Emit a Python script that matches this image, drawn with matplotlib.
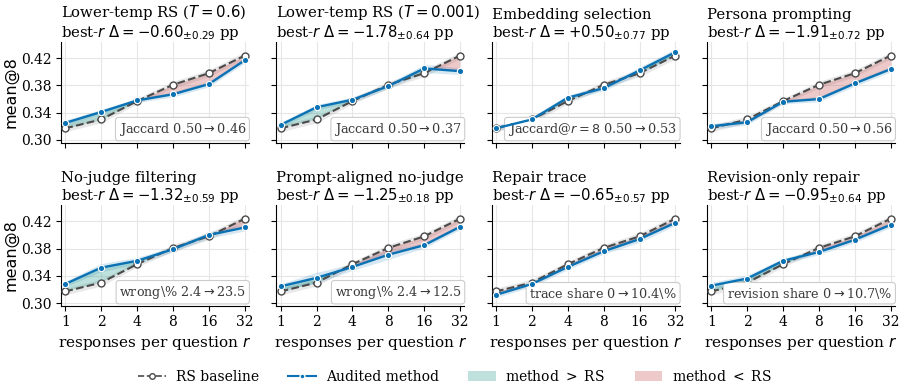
import numpy as np
import matplotlib
matplotlib.use("Agg")
import matplotlib.pyplot as plt
from matplotlib.lines import Line2D
from matplotlib.patches import Patch

plt.rcParams['font.family'] = ['DejaVu Serif']
plt.rcParams['mathtext.fontset'] = 'dejavusans'

#%% Data
r_values = [1, 2, 4, 8, 16, 32]
baseline = [0.317, 0.330, 0.357, 0.381, 0.398, 0.424]
baseline_ci = [0.005, 0.005, 0.004, 0.005, 0.005, 0.005]

titles = [
	"Lower-temp RS ($T=0.6$)",
	"Lower-temp RS ($T=0.001$)",
	"Embedding selection",
	"Persona prompting",
	"No-judge filtering",
	"Prompt-aligned no-judge",
	"Repair trace",
	"Revision-only repair",
]
deltas = ["-0.60", "-1.78", "+0.50", "-1.91", "-1.32", "-1.25", "-0.65", "-0.95"]
delta_errs = ["0.29", "0.64", "0.77", "0.72", "0.59", "0.18", "0.57", "0.64"]
notes = [
	"Jaccard 0.50$\\rightarrow$0.46",
	"Jaccard 0.50$\\rightarrow$0.37",
	"Jaccard@$r=8$ 0.50$\\rightarrow$0.53",
	"Jaccard 0.50$\\rightarrow$0.56",
	"wrong\\% 2.4$\\rightarrow$23.5",
	"wrong\\% 2.4$\\rightarrow$12.5",
	"trace share 0$\\rightarrow$10.4\\%",
	"revision share 0$\\rightarrow$10.7\\%",
]
method_values = [
	[0.325, 0.341, 0.358, 0.367, 0.382, 0.417],
	[0.322, 0.348, 0.359, 0.379, 0.405, 0.401],
	[0.317, 0.330, 0.362, 0.376, 0.402, 0.429],
	[0.320, 0.326, 0.356, 0.360, 0.383, 0.404],
	[0.328, 0.352, 0.362, 0.379, 0.400, 0.411],
	[0.3245, 0.337, 0.353, 0.371, 0.385, 0.412],
	[0.312, 0.328, 0.353, 0.376, 0.394, 0.418],
	[0.3255, 0.336, 0.362, 0.375, 0.393, 0.415],
]
method_ci = [
	[0.004, 0.004, 0.003, 0.004, 0.004, 0.004],
	[0.004, 0.004, 0.004, 0.004, 0.006, 0.005],
	[0.004, 0.004, 0.004, 0.004, 0.005, 0.005],
	[0.004, 0.004, 0.003, 0.004, 0.004, 0.004],
	[0.004, 0.006, 0.005, 0.004, 0.005, 0.005],
	[0.004, 0.008, 0.005, 0.007, 0.004, 0.004],
	[0.004, 0.004, 0.004, 0.004, 0.005, 0.004],
	[0.005, 0.005, 0.004, 0.004, 0.004, 0.004],
]

blue = '#0a72b4'
grey = '#4a4a4a'
green_fill = '#2a9d8f'
red_fill = '#c44e52'

#%% Plot
fig, axes = plt.subplots(2, 4, figsize=(9.05, 3.88), dpi=100, sharey=True)
fig.subplots_adjust(left=0.0674, right=0.989, top=0.892, bottom=0.212, wspace=0.145, hspace=0.62)

x = np.log2(r_values)
b = np.array(baseline)
bci = np.array(baseline_ci)

for i, ax in enumerate(axes.flat):
	m = np.array(method_values[i])
	mci = np.array(method_ci[i])

	ax.grid(True, color='#e6e6e6', linewidth=0.8)
	ax.set_axisbelow(True)

	ax.fill_between(x, b - bci, b + bci, color='grey', alpha=0.18, linewidth=0)
	ax.fill_between(x, m - mci, m + mci, color=blue, alpha=0.16, linewidth=0)
	ax.fill_between(x, b, m, where=m >= b, interpolate=True, color=green_fill, alpha=0.3, linewidth=0)
	ax.fill_between(x, b, m, where=m < b, interpolate=True, color=red_fill, alpha=0.3, linewidth=0)

	ax.plot(x, b, linestyle='--', color=grey, linewidth=1.5, marker='o', markersize=5,
		markerfacecolor='white', markeredgecolor=grey, markeredgewidth=1.0, zorder=3)
	ax.plot(x, m, linestyle='-', color=blue, linewidth=1.7, marker='o', markersize=4.5,
		markerfacecolor=blue, markeredgecolor='white', markeredgewidth=0.8, zorder=4)

	ax.set_xticks(x)
	ax.set_xticklabels([str(r) for r in r_values], fontsize=10)
	ax.set_xlim(-0.12, 5.12)
	ax.set_ylim(0.296, 0.444)
	ax.set_yticks([0.30, 0.34, 0.38, 0.42])
	ax.set_yticklabels(["0.30", "0.34", "0.38", "0.42"], fontsize=10)
	ax.spines['top'].set_visible(False)
	ax.spines['right'].set_visible(False)
	ax.tick_params(length=3.5, pad=3)

	ax.set_title("{}\nbest-$r$ $\\Delta = {}_{{\\pm {}}}$ pp".format(titles[i], deltas[i], delta_errs[i]),
		loc='left', fontsize=10.7, pad=3, linespacing=1.05)

	ax.text(0.985, 0.05, notes[i], transform=ax.transAxes, ha='right', va='bottom', fontsize=9.2, color='#3a3a3a',
		bbox=dict(boxstyle='round,pad=0.25', facecolor='white', edgecolor='#cccccc', linewidth=0.8))

	if i >= 4:
		ax.set_xlabel("responses per question $r$", fontsize=11, labelpad=3.5)
	else:
		ax.tick_params(labelbottom=False)
	if i % 4 == 0:
		ax.set_ylabel("mean@8", fontsize=11.5, family='DejaVu Sans', labelpad=2)

handles = [
	Line2D([0], [0], linestyle='--', color=grey, linewidth=1.2, marker='o', markersize=4,
		markerfacecolor='white', markeredgecolor=grey),
	Line2D([0], [0], linestyle='-', color=blue, linewidth=1.5, marker='o', markersize=3.5,
		markerfacecolor=blue, markeredgecolor='white'),
	Patch(facecolor=green_fill, alpha=0.3, edgecolor='none'),
	Patch(facecolor=red_fill, alpha=0.3, edgecolor='none'),
]
labels = ["RS baseline", "Audited method", "method $>$ RS", "method $<$ RS"]
fig.legend(handles, labels, loc='center', bbox_to_anchor=(0.503, 0.03), ncol=4, frameon=False,
	fontsize=10, columnspacing=2.1, handlelength=2.0, handletextpad=0.7)

fig.savefig("out.png", dpi=100)
